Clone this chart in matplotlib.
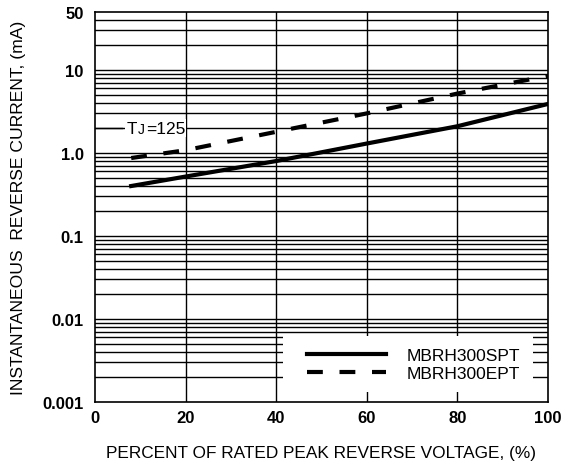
import matplotlib.pyplot as plt
from matplotlib.patches import Rectangle
from matplotlib.ticker import FixedLocator, NullFormatter

plt.rcParams['font.family'] = ['Liberation Sans', 'DejaVu Sans']

# percent of rated peak reverse voltage
pct = [8, 20, 40, 60, 80, 100]
# instantaneous reverse current (mA)
spt = [0.40, 0.52, 0.80, 1.3, 2.1, 3.9]
ept = [0.87, 1.08, 1.8, 3.0, 5.2, 8.5]

x_ticks = [0, 20, 40, 60, 80, 100]
y_ticks = [0.001, 0.01, 0.1, 1.0, 10, 50]
y_labels = ['0.001', '0.01', '0.1', '1.0', '10', '50']

fig = plt.figure(figsize=(5.72, 4.64), dpi=100)
ax = fig.add_axes([0.166, 0.1315, 0.792, 0.8405])
ax.set_yscale('log')
ax.set_xlim(0, 100)
ax.set_ylim(0.001, 50)

# grid: every minor log line plus the 20% verticals
grid_y = [m * 10.0 ** e for e in range(-3, 2) for m in range(1, 10)]
grid_y = [v for v in grid_y if 0.001 < v < 50]
for v in grid_y:
    ax.axhline(v, color='black', lw=1.0, zorder=1)
for v in x_ticks[1:-1]:
    ax.axvline(v, color='black', lw=1.0, zorder=1)

ax.plot(pct, spt, color='black', lw=3.0, label='MBRH300SPT', zorder=3)
ax.plot(pct, ept, color='black', lw=3.0, dashes=(3.8, 4.0), label='MBRH300EPT', zorder=3)

ax.set_xticks(x_ticks)
ax.set_xticklabels([str(v) for v in x_ticks], fontweight='bold', fontsize=12)
ax.yaxis.set_major_locator(FixedLocator(y_ticks))
ax.yaxis.set_minor_formatter(NullFormatter())
ax.yaxis.set_minor_locator(FixedLocator([]))
ax.set_yticklabels(y_labels, fontweight='bold', fontsize=12)
ax.tick_params(axis='x', length=0, pad=6)
ax.tick_params(axis='y', length=0, pad=8)
for s in ax.spines.values():
    s.set_linewidth(1.2)

ax.set_xlabel('PERCENT OF RATED PEAK REVERSE VOLTAGE, (%)', fontsize=12.4, labelpad=14)
ax.set_ylabel('INSTANTANEOUS  REVERSE CURRENT, (mA)', fontsize=12.6, labelpad=12)

# TJ annotation
ax.plot([0, 6], [2.0, 2.0], color='black', lw=1.0, zorder=3)
ax.text(7.0, 2.0, 'T', fontsize=12.5, va='center', ha='left', zorder=4,
        bbox=dict(facecolor='white', edgecolor='none', pad=1))
ax.text(9.4, 1.93, 'J', fontsize=10, va='center', ha='left', zorder=4,
        bbox=dict(facecolor='white', edgecolor='none', pad=0.5))
ax.text(11.2, 2.0, '=125', fontsize=12.5, va='center', ha='left', zorder=4,
        bbox=dict(facecolor='white', edgecolor='none', pad=1))

# white legend panel over the grid
ax.add_patch(Rectangle((0.415, 0.026), 0.552, 0.143, transform=ax.transAxes,
                       facecolor='white', edgecolor='none', zorder=4))
leg = ax.legend(loc='center', bbox_to_anchor=(0.704, 0.097), fontsize=12.5,
                handlelength=4.55, handletextpad=1.2, borderpad=0.2,
                labelspacing=0.15, frameon=False)
leg.set_zorder(5)

fig.savefig('out.png', dpi=100)
